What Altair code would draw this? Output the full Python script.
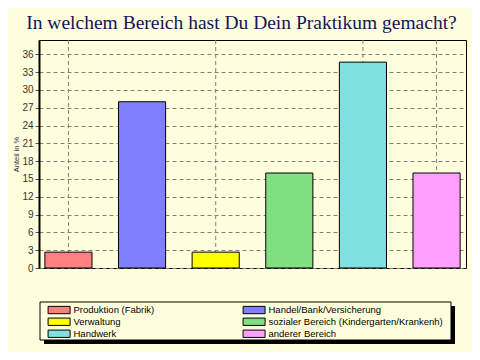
import altair as alt
import pandas as pd

categories = ["Produktion (Fabrik)", "Handel/Bank/Versicherung", "Verwaltung",
              "sozialer Bereich (Kindergarten/Krankenh)", "Handwerk", "anderer Bereich"]
values = [2.67, 28.0, 2.67, 16.0, 34.67, 16.0]
colors = ["#FF8080", "#8080FF", "#FFFF00", "#80E080", "#80E0E0", "#FFA0FF"]
axis_labels = ["Produktion (Fabrik)", "", "Verwaltung", "", "Handwerk", "anderer Bereich"]
grid_cats = ["Produktion (Fabrik)", "Verwaltung", "Handwerk", "anderer Bereich"]
y_ticks = list(range(0, 37, 3))

df = pd.DataFrame({"cat": categories, "val": values, "lab": axis_labels})
grid_df = pd.DataFrame({"cat": grid_cats})
one = pd.DataFrame({"a": [0]})

BG = "#FFFFDD"
W, H = 427, 228

label_expr = "{" + ",".join(f"'{c}':'{l}'" for c, l in zip(categories, axis_labels)) + "}[datum.value]"

xscale = alt.Scale(domain=categories, paddingInner=0.36, paddingOuter=0.08)
yscale = alt.Scale(domain=[0, 38.4], nice=False)

shadow = alt.Chart(one).mark_rect(color="black").encode(
    x=alt.value(5), x2=alt.value(416), y=alt.value(266), y2=alt.value(304))
box = alt.Chart(one).mark_rect(fill=BG, stroke="black", strokeWidth=1).encode(
    x=alt.value(1), x2=alt.value(412), y=alt.value(262), y2=alt.value(300))

vgrid = alt.Chart(grid_df).mark_rule(color="#808080", strokeDash=[4, 3], strokeWidth=1).encode(
    x=alt.X("cat:N", scale=xscale, sort=categories, axis=None),
    y=alt.value(0), y2=alt.value(H))

bars = alt.Chart(df).mark_bar(stroke="black", strokeWidth=1, opacity=1).encode(
    x=alt.X("cat:N", scale=xscale, sort=categories, title="N [75]",
            axis=alt.Axis(labelExpr=label_expr, labelAngle=0, grid=False,
                          domainColor="black", domainWidth=2, tickColor="#555555",
                          tickSize=3, labelColor="#555555", labelFontSize=9,
                          labelFont="Liberation Sans", labelPadding=4,
                          titleFont="Liberation Sans", titleFontSize=7,
                          titleFontWeight="normal", titleColor="#555555",
                          titlePadding=2, labelOverlap=False)),
    y=alt.Y("val:Q", scale=yscale, title="Anteil in %",
            axis=alt.Axis(values=y_ticks, grid=True, gridColor="#808080",
                          gridDash=[4, 3], gridWidth=1, domainColor="black",
                          domainWidth=2, tickColor="#555555", tickSize=4,
                          labelColor="#333333", labelFontSize=10,
                          labelFont="Liberation Sans", labelPadding=2,
                          titleFont="Liberation Sans", titleFontSize=7.5,
                          titleFontWeight="normal", titleColor="#333333",
                          titlePadding=1)),
    color=alt.Color("cat:N", scale=alt.Scale(domain=categories, range=colors),
                    sort=categories,
                    legend=alt.Legend(orient="none", legendX=8, legendY=265,
                                      columns=2, direction="horizontal", title=None,
                                      symbolType="M-1,-1H5V1H-1Z",
                                      symbolSize=53.8, symbolStrokeColor="black",
                                      symbolStrokeWidth=1, symbolOpacity=1,
                                      labelFont="Liberation Sans", labelFontSize=9.5,
                                      labelColor="black", labelOffset=17,
                                      columnPadding=86, rowPadding=0,
                                      labelLimit=300, padding=0)),
)

chart = alt.layer(shadow, box, vgrid, bars).properties(
    width=W, height=H,
    background=BG,
    autosize=alt.AutoSizeParams(type="none"),
    padding={"left": 31, "top": 32, "right": 6, "bottom": 84},
    title=alt.Title("In welchem Bereich hast Du Dein Praktikum gemacht?",
                    font="Liberation Serif", fontSize=19.5, fontWeight="normal",
                    color="#14145A", anchor="middle", dx=-11, offset=6),
).configure_view(stroke="black", strokeWidth=1, fill=BG)

chart.save("out.html", embed_options={"renderer": "svg", "actions": False})
